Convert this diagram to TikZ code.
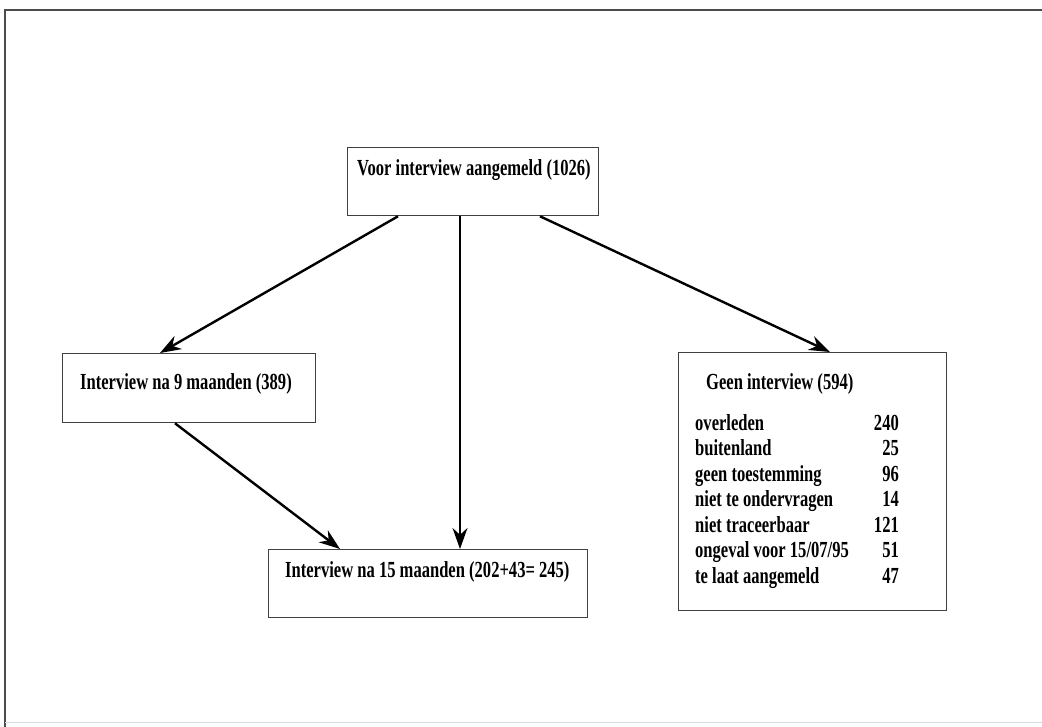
\documentclass[tikz,border=0pt]{standalone}
\usepackage{fontspec}
\setmainfont{Liberation Serif}
\newfontfamily\condfont[FakeStretch=0.72]{Liberation Serif}
\usetikzlibrary{arrows.meta,calc}
\begin{document}
\begin{tikzpicture}[x=1pt,y=-1pt,
  box/.style={draw=black!75,line width=1.3pt,inner sep=0pt,anchor=north west},
  lbl/.style={inner sep=0pt,anchor=base west,font=\condfont\bfseries\fontsize{23}{25.5}\selectfont},
  arr/.style={line width=2.4pt,-{Stealth[length=21pt,width=15pt]}}]
\useasboundingbox (0,0) rectangle (1042,727);
\draw[black!70,line width=1.2pt] (1042,10) -- (5,10) -- (5,727);
\draw[black!15,line width=1pt] (5,722) -- (1042,722);
% boxes
\node[box,minimum width=251pt,minimum height=68pt] (top) at (347,147) {};
\node[box,minimum width=253pt,minimum height=69pt] (left) at (62,353) {};
\node[box,minimum width=319pt,minimum height=68pt] (bot) at (268,549) {};
\node[box,minimum width=268pt,minimum height=258pt] (right) at (678,352) {};
% labels
\node[lbl] (ttop) at (357,176) {Voor interview aangemeld (1026)};
\node[lbl] (tleft) at (80,389) {Interview na 9 maanden (389)};
\node[lbl] (tbot) at (285,577) {Interview na 15 maanden (202+43= 245)};
\node[lbl] (tright) at (706,390) {Geen interview (594)};
\node[lbl,anchor=north west] (list) at (695,412) {%
\begin{tabular}{@{}l@{\hspace{0pt}}r@{}}
\makebox[152pt][l]{overleden} & \makebox[50pt][r]{240}\\
buitenland & 25\\
geen toestemming & 96\\
niet te ondervragen & 14\\
niet traceerbaar & 121\\
ongeval voor 15/07/95 & 51\\
te laat aangemeld & 47
\end{tabular}};
% arrows
\draw[arr] ([xshift=51pt]top.south west) -- ([xshift=98pt]left.north west);
\draw[arr] ([xshift=113pt]top.south west) -- ([xshift=192pt]bot.north west);
\draw[arr] ([xshift=193pt]top.south west) -- ([xshift=152pt]right.north west);
\draw[arr] ([xshift=113pt]left.south west) -- ([xshift=72pt]bot.north west);
\end{tikzpicture}
\end{document}
